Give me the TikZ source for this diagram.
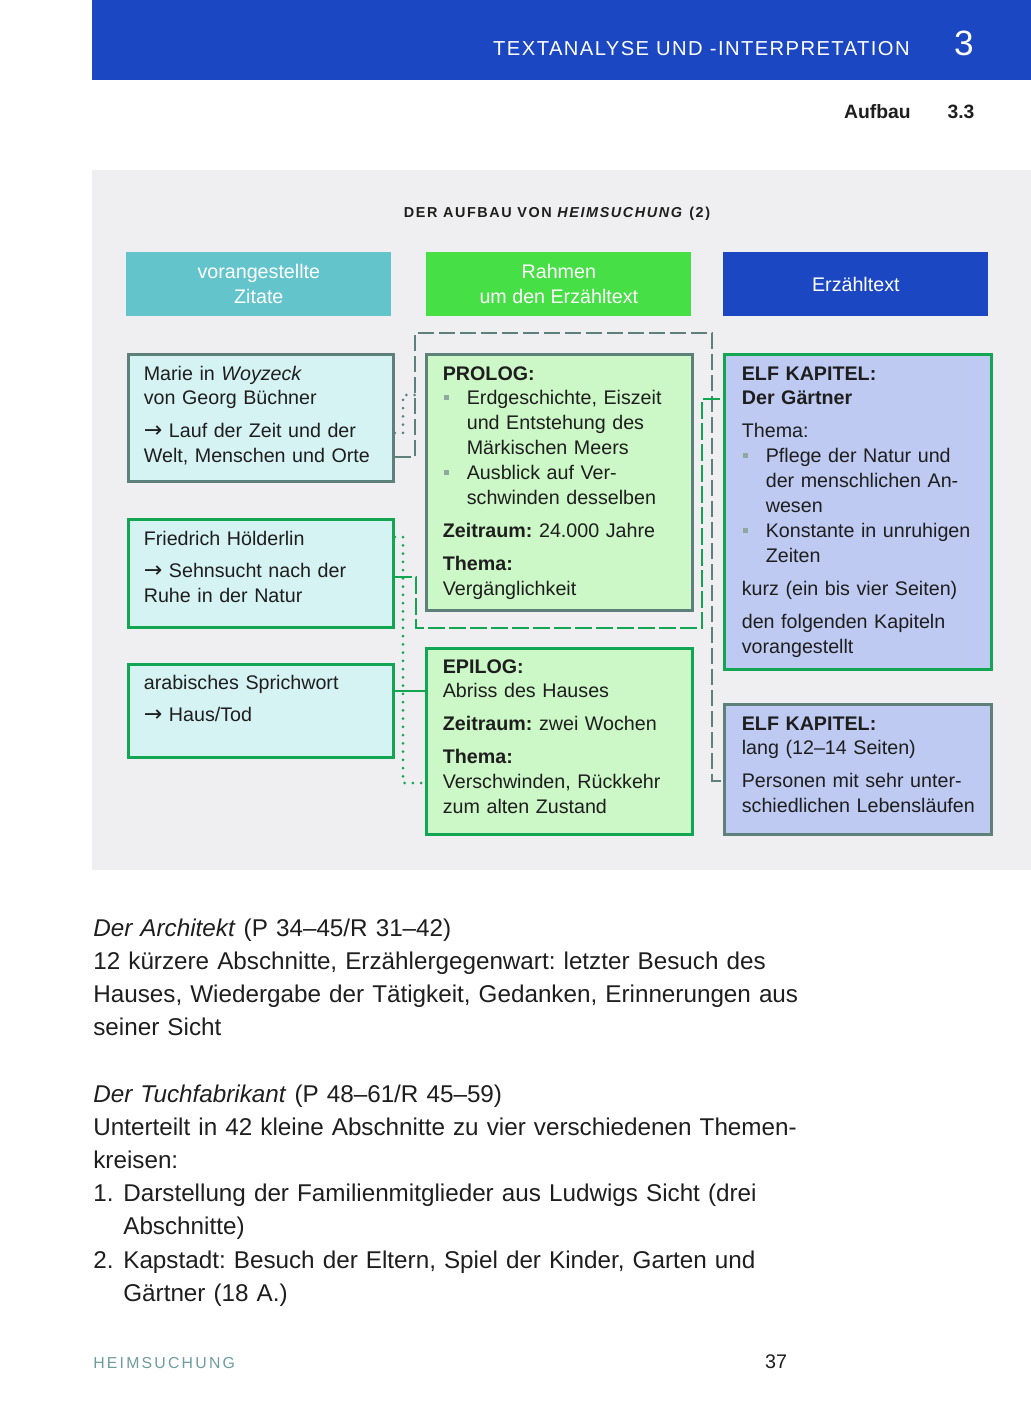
\documentclass[tikz,border=0pt]{standalone}
\usepackage{fontspec}
\setmainfont{Liberation Sans}
\newfontfamily\pfeilfont{DejaVu Sans}
\usetikzlibrary{positioning}
\definecolor{kopfBlau}{HTML}{1B47C3}
\definecolor{panelGrau}{HTML}{EFEFF1}
\definecolor{zitatTeal}{HTML}{63C5CB}
\definecolor{rahmenHell}{HTML}{46DF46}
\definecolor{zitatFill}{HTML}{D6F3F4}
\definecolor{rahmenFill}{HTML}{CCF7C6}
\definecolor{erzFill}{HTML}{BECAF2}
\definecolor{linieGrau}{HTML}{5E807B}
\definecolor{linieGruen}{HTML}{12A552}
\definecolor{bulletGrau}{HTML}{8FA8A0}
\definecolor{textDunkel}{HTML}{1E1E1E}
\definecolor{fussGrau}{HTML}{6F9C9E}
\newcommand{\aufz}{\makebox[0.48cm][l]{\hspace{0.02cm}\textcolor{bulletGrau}{\rule[0.1cm]{0.1cm}{0.1cm}}}}
\newcommand{\einzug}{\hspace*{0.48cm}}
\newcommand{\pfeil}{{\pfeilfont\fontsize{12.6}{14.2}\selectfont →}}
\newcommand{\absatz}{\\[0.16cm]}
\frenchspacing
\tikzset{
  kasten/.style={rectangle, anchor=north west, line width=0.06cm, inner sep=0pt,
                 minimum width=5.3cm},
  zitatGrau/.style={kasten, fill=zitatFill, draw=linieGrau},
  zitatGruen/.style={kasten, fill=zitatFill, draw=linieGruen},
  rahmenGrau/.style={kasten, fill=rahmenFill, draw=linieGrau, minimum width=5.32cm},
  rahmenGruen/.style={kasten, fill=rahmenFill, draw=linieGruen, minimum width=5.32cm},
  erzGrau/.style={kasten, fill=erzFill, draw=linieGrau, minimum width=5.34cm},
  erzGruen/.style={kasten, fill=erzFill, draw=linieGruen, minimum width=5.34cm},
  kopf/.style={rectangle, anchor=north west, inner sep=0pt, minimum width=5.3cm,
               minimum height=1.28cm, text=white, align=center,
               font=\fontsize{11.2}{14.2}\selectfont\frenchspacing},
  boxtext/.style={anchor=base west, inner sep=0pt, align=left, text width=6cm,
                  text=textDunkel, font=\fontsize{11.2}{14.2}\selectfont\frenchspacing},
  fliess/.style={anchor=base west, inner sep=0pt, align=left, text width=17cm,
                 text=textDunkel, font=\fontsize{13.8}{18.9}\selectfont\frenchspacing},
  verbGrau/.style={draw=linieGrau, line width=0.05cm, dash pattern=on 0.32cm off 0.1cm},
  verbGruen/.style={draw=linieGruen, line width=0.05cm, dash pattern=on 0.34cm off 0.08cm},
  punktGrau/.style={draw=linieGrau, line width=0.06cm, line cap=round,
                    dash pattern=on 0pt off 0.165cm},
  punktGruen/.style={draw=linieGruen, line width=0.06cm, line cap=round,
                     dash pattern=on 0pt off 0.165cm},
  linieG/.style={draw=linieGruen, line width=0.05cm},
}
\begin{document}
\begin{tikzpicture}[x=0.02cm, y=-0.02cm]
  \useasboundingbox (0,0) rectangle (1031,1418);
  \fill[white] (0,0) rectangle (1031,1418);

  % Kopfzeile
  \fill[kopfBlau] (92,0) rectangle (1031,80);
  \node[anchor=base east, inner sep=0pt, text=white,
        font=\fontsize{11.5}{12}\selectfont\addfontfeature{LetterSpace=7}] (kapitel) at (910,55)
        {TEXTANALYSE UND -INTERPRETATION};
  \node[anchor=base, inner sep=0pt, text=white, font=\fontsize{20}{22}\selectfont] (kapNr) at (964,55) {3};
  \node[anchor=base east, inner sep=0pt, text=textDunkel, font=\fontsize{11}{12}\bfseries] (abschnitt) at (911,118) {Aufbau};
  \node[anchor=base, inner sep=0pt, text=textDunkel, font=\fontsize{11}{12}\bfseries] (abschnittNr) at (961,118) {3.3};

  % Grafik
  \fill[panelGrau] (92,170) rectangle (1031,870);
  \node[anchor=base, inner sep=0pt, text=textDunkel,
        font=\fontsize{8.2}{10}\bfseries\addfontfeature{LetterSpace=11}] (titel) at (557,217)
        {DER AUFBAU VON \textit{HEIMSUCHUNG} (2)};

  \node[kopf, fill=zitatTeal] (kZitate) at (126,252) {vorangestellte\\Zitate};
  \node[kopf, fill=rahmenHell] (kRahmen) at (426,252) {Rahmen\\um den Erzähltext};
  \node[kopf, fill=kopfBlau] (kErz) at (723,252) {Erzähltext};

  \node[zitatGrau, minimum height=2.54cm] (marie) at (127,353) {};
  \node[zitatGruen, minimum height=2.16cm] (hoelderlin) at (127,518) {};
  \node[zitatGruen, minimum height=1.86cm] (sprichwort) at (127,663) {};
  \node[rahmenGrau, minimum height=5.12cm] (prolog) at (425,353) {};
  \node[rahmenGruen, minimum height=3.72cm] (epilog) at (425,647) {};
  \node[erzGruen, minimum height=6.3cm] (gaertner) at (723,353) {};
  \node[erzGrau, minimum height=2.6cm] (elfLang) at (723,703) {};

  \node[boxtext] (marieT) at ([shift={(0.33cm,-0.54cm)}]marie.north west)
    {Marie in \textit{Woyzeck}\\von Georg Büchner\absatz
     \pfeil\ Lauf der Zeit und der\\Welt, Menschen und Orte};
  \node[boxtext] (hoelderlinT) at ([shift={(0.33cm,-0.54cm)}]hoelderlin.north west)
    {Friedrich Hölderlin\absatz
     \pfeil\ Sehnsucht nach der\\Ruhe in der Natur};
  \node[boxtext] (sprichwortT) at ([shift={(0.33cm,-0.52cm)}]sprichwort.north west)
    {arabisches Sprichwort\absatz
     \pfeil\ Haus/Tod};
  \node[boxtext] (prologT) at ([shift={(0.35cm,-0.54cm)}]prolog.north west)
    {\textbf{PROLOG:}\\
     \aufz Erdgeschichte, Eiszeit\\
     \einzug und Entstehung des\\
     \einzug Märkischen Meers\\
     \aufz Ausblick auf Ver-\\
     \einzug schwinden desselben\absatz
     \textbf{Zeitraum:} 24.000 Jahre\absatz
     \textbf{Thema:}\\Vergänglichkeit};
  \node[boxtext] (epilogT) at ([shift={(0.35cm,-0.52cm)}]epilog.north west)
    {\textbf{EPILOG:}\\Abriss des Hauses\absatz
     \textbf{Zeitraum:} zwei Wochen\absatz
     \textbf{Thema:}\\Verschwinden, Rückkehr\\zum alten Zustand};
  \node[boxtext] (gaertnerT) at ([shift={(0.37cm,-0.54cm)}]gaertner.north west)
    {\textbf{ELF KAPITEL:}\\\textbf{Der Gärtner}\absatz
     Thema:\\
     \aufz Pflege der Natur und\\
     \einzug der menschlichen An-\\
     \einzug wesen\\
     \aufz Konstante in unruhigen\\
     \einzug Zeiten\absatz
     kurz (ein bis vier Seiten)\absatz
     den folgenden Kapiteln\\vorangestellt};
  \node[boxtext] (elfLangT) at ([shift={(0.37cm,-0.54cm)}]elfLang.north west)
    {\textbf{ELF KAPITEL:}\\lang (12–14 Seiten)\absatz
     Personen mit sehr unter-\\schiedlichen Lebensläufen};

  % Verbindungen
  \draw[verbGrau] (marie.east |- 0,457) -- (415,457) -- (415,333) -- (712,333)
    -- (712,781) -- (elfLang.west |- 0,781);
  \draw[punktGrau] (marie.east |- 0,433) -- (403,433) -- (403,395) -- (415,395);
  \draw[verbGruen] (hoelderlin.east |- 0,577) -- (416,577) -- (416,628) -- (702,628)
    -- (702,399) -- (gaertner.west |- 0,399);
  \draw[punktGruen] (hoelderlin.east |- 0,537) -- (403,537) -- (403,783) -- (epilog.west |- 0,783);
  \draw[linieG] (sprichwort.east |- 0,691) -- (epilog.west |- 0,691);

  % Fliesstext
  \node[fliess] (architekt) at (93,936)
    {\textit{Der Architekt} (P 34–45/R 31–42)\\
     12 kürzere Abschnitte, Erzählergegenwart: letzter Besuch des\\
     Hauses, Wiedergabe der Tätigkeit, Gedanken, Erinnerungen aus\\
     seiner Sicht};
  \node[fliess] (tuchfabrikant) at (93,1102)
    {\textit{Der Tuchfabrikant} (P 48–61/R 45–59)\\
     Unterteilt in 42 kleine Abschnitte zu vier verschiedenen Themen-\\
     kreisen:\\
     \makebox[0.6cm][l]{1.}Darstellung der Familienmitglieder aus Ludwigs Sicht (drei\\
     \hspace*{0.6cm}Abschnitte)\\
     \makebox[0.6cm][l]{2.}Kapstadt: Besuch der Eltern, Spiel der Kinder, Garten und\\
     \hspace*{0.6cm}Gärtner (18 A.)};

  % Fusszeile
  \node[anchor=base west, inner sep=0pt, text=fussGrau,
        font=\fontsize{9}{10}\selectfont\addfontfeature{LetterSpace=14}] (fussTitel) at (93,1368) {HEIMSUCHUNG};
  \node[anchor=base, inner sep=0pt, text=textDunkel, font=\fontsize{11.2}{12}\selectfont] (seite) at (776,1368) {37};
\end{tikzpicture}
\end{document}
